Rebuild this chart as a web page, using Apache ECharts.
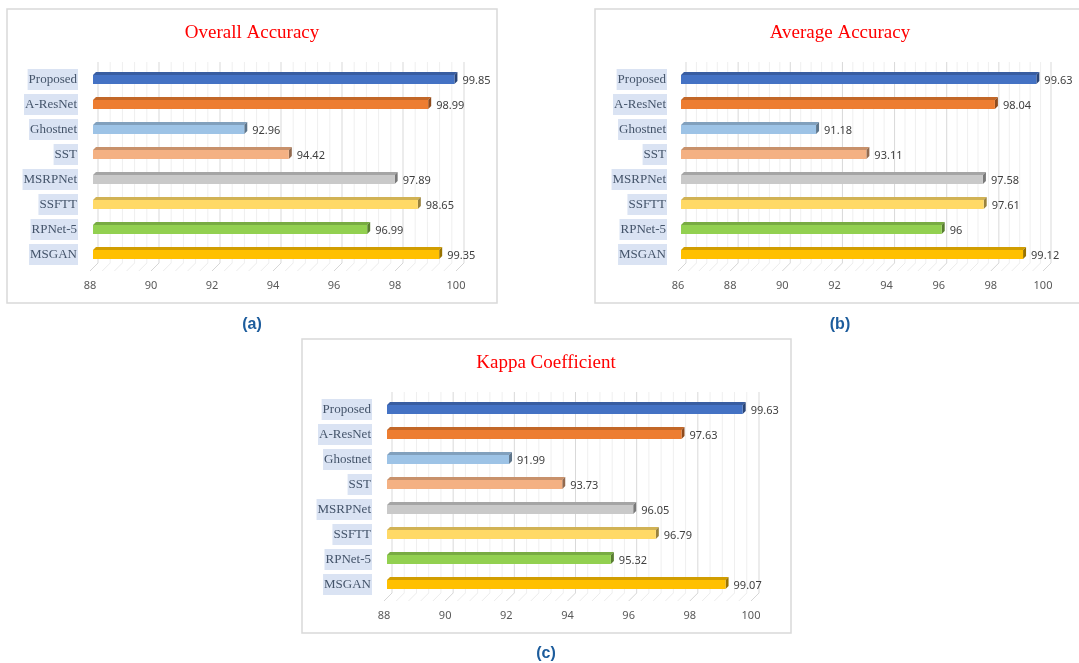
<!DOCTYPE html>
<html>
<head>
<meta charset="utf-8">
<title>Accuracy comparison</title>
<script src="https://cdn.jsdelivr.net/npm/echarts@6/dist/echarts.min.js"></script>
<style>
  html, body { margin: 0; padding: 0; background: #ffffff; }
  #chart { width: 1079px; height: 663px; }
</style>
</head>
<body>
<div id="chart"></div>
<script>
// Methods compared (top to bottom)
const categories = ['Proposed', 'A-ResNet', 'Ghostnet', 'SST', 'MSRPNet', 'SSFTT', 'RPNet-5', 'MSGAN'];

// Scores per method, same order as categories
const overallAccuracy = [99.85, 98.99, 92.96, 94.42, 97.89, 98.65, 96.99, 99.35];
const averageAccuracy = [99.63, 98.04, 91.18, 93.11, 97.58, 97.61, 96, 99.12];
const kappaCoefficient = [99.63, 97.63, 91.99, 93.73, 96.05, 96.79, 95.32, 99.07];

// Axis ranges (min, max, major step)
const overallAxis = [88, 100, 2];
const averageAxis = [86, 100, 2];
const kappaAxis = [88, 100, 2];

const titles = ['Overall Accuracy', 'Average Accuracy', 'Kappa Coefficient'];
const captions = ['(a)', '(b)', '(c)'];

// Face colours of each method's bar
const barColors = ['#4472c4', '#ed7d31', '#9dc3e6', '#f4b183', '#c9c9c9', '#ffd966', '#92d050', '#ffc000'];

function shade(hex, f) {
  const n = parseInt(hex.slice(1), 16);
  const r = Math.round(((n >> 16) & 255) * f);
  const g = Math.round(((n >> 8) & 255) * f);
  const b = Math.round((n & 255) * f);
  return 'rgb(' + r + ',' + g + ',' + b + ')';
}

// Layout of each panel: frame box, plot grid, title/caption anchors
const panels = [
  { values: overallAccuracy, axis: overallAxis, box: [7, 9, 490, 294], grid: [93, 67, 366, 200], titleX: 252, titleY: 24, capX: 252, capY: 317, labelW: 15 },
  { values: averageAccuracy, axis: averageAxis, box: [595, 9, 500, 294], grid: [681, 67, 365, 200], titleX: 840, titleY: 24, capX: 840, capY: 317, labelW: 14 },
  { values: kappaCoefficient, axis: kappaAxis, box: [302, 339, 489, 294], grid: [387, 397, 367, 200], titleX: 546, titleY: 354, capX: 546, capY: 646, labelW: 15 }
];

const WALL_DX = 5, WALL_UP = 5, FLOOR_BACK = -4, FLOOR_FRONT = 4, FLOOR_DX = -3;
const FACE_H = 9, DEPTH = 3;

const grids = [], xAxes = [], yAxes = [], series = [], titleList = [], graphics = [];

panels.forEach(function (p, k) {
  const min = p.axis[0], max = p.axis[1], step = p.axis[2];
  grids.push({ left: p.grid[0], top: p.grid[1], width: p.grid[2], height: p.grid[3], containLabel: false });
  xAxes.push({
    gridIndex: k, type: 'value', min: min, max: max, interval: step,
    axisLine: { show: false }, axisTick: { show: false }, splitLine: { show: false },
    axisLabel: { margin: 13, padding: [0, 6, 0, 0], color: '#595959', fontFamily: 'Noto Sans', fontSize: 11 }
  });
  yAxes.push({
    gridIndex: k, type: 'category', data: categories, inverse: true,
    axisLine: { show: false }, axisTick: { show: false }, splitLine: { show: false },
    axisLabel: {
      margin: p.labelW, color: '#44546a', fontFamily: 'Liberation Serif', fontSize: 13,
      backgroundColor: '#dae3f3', padding: [3, 1, 0, 1], lineHeight: 18
    }
  });

  // Back wall gridlines and slanted floor lines
  series.push({
    type: 'custom', xAxisIndex: k, yAxisIndex: k, silent: true, z: 1,
    data: [[min, 0]], encode: { x: 0, y: 1 },
    renderItem: function (params, api) {
      const cs = params.coordSys;
      const children = [];
      const top = cs.y - WALL_UP;
      const backY = cs.y + cs.height + FLOOR_BACK;
      const frontY = cs.y + cs.height + FLOOR_FRONT;
      const minor = step / 5;
      const n = Math.round((max - min) / minor);
      for (let i = 0; i <= n; i++) {
        const v = min + i * minor;
        const x = api.coord([v, 0])[0];
        const major = i % 5 === 0;
        children.push({
          type: 'line',
          shape: { x1: x + WALL_DX, y1: top, x2: x + WALL_DX, y2: backY },
          style: { stroke: major ? '#d9d9d9' : '#efefef', lineWidth: 1 }
        });
        children.push({
          type: 'line',
          shape: { x1: x + WALL_DX, y1: backY, x2: x + FLOOR_DX, y2: frontY },
          style: { stroke: major ? '#d6d6d6' : '#ececec', lineWidth: 1 }
        });
      }
      return { type: 'group', children: children };
    }
  });

  // 3-D style bars with value labels
  series.push({
    type: 'custom', xAxisIndex: k, yAxisIndex: k, z: 3,
    data: p.values.map(function (v, i) { return [v, i]; }),
    encode: { x: 0, y: 1 },
    renderItem: function (params, api) {
      const v = api.value(0), idx = api.value(1);
      const s = api.coord([min, idx]);
      const e = api.coord([v, idx]);
      const c = barColors[idx];
      const y0 = s[1] - FACE_H / 2, y1 = s[1] + FACE_H / 2;
      return {
        type: 'group',
        children: [
          { type: 'polygon', shape: { points: [[s[0], y0], [s[0] + DEPTH, y0 - DEPTH], [e[0] + DEPTH, y0 - DEPTH], [e[0], y0]] }, style: { fill: shade(c, 0.82) } },
          { type: 'polygon', shape: { points: [[e[0], y0], [e[0] + DEPTH, y0 - DEPTH], [e[0] + DEPTH, y1 - DEPTH], [e[0], y1]] }, style: { fill: shade(c, 0.6) } },
          { type: 'rect', shape: { x: s[0], y: y0, width: e[0] - s[0], height: FACE_H }, style: { fill: c } },
          { type: 'text', x: e[0] + DEPTH + 5, y: s[1] + 1,
            style: { text: String(v), fill: '#404040', font: '11px "Noto Sans"', verticalAlign: 'middle', align: 'left' } }
        ]
      };
    }
  });

  titleList.push({
    text: titles[k], left: p.titleX, top: p.titleY, textAlign: 'center', padding: 0,
    textStyle: { color: '#ff0000', fontFamily: 'Liberation Serif', fontSize: 19, fontWeight: 'normal' }
  });
  titleList.push({
    text: captions[k], left: p.capX, top: p.capY, textAlign: 'center', padding: 0,
    textStyle: { color: '#1c5c9c', fontFamily: 'Liberation Sans', fontSize: 16, fontWeight: 'bold' }
  });

  graphics.push({
    type: 'rect', z: -10, silent: true,
    shape: { x: p.box[0], y: p.box[1], width: p.box[2], height: p.box[3] },
    style: { fill: '#ffffff', stroke: '#d9d9d9', lineWidth: 1.5 }
  });
});

const chart = echarts.init(document.getElementById('chart'), null, { renderer: 'canvas' });
chart.setOption({
  animation: false,
  backgroundColor: '#ffffff',
  title: titleList,
  graphic: graphics,
  grid: grids,
  xAxis: xAxes,
  yAxis: yAxes,
  series: series
});
</script>
</body>
</html>
